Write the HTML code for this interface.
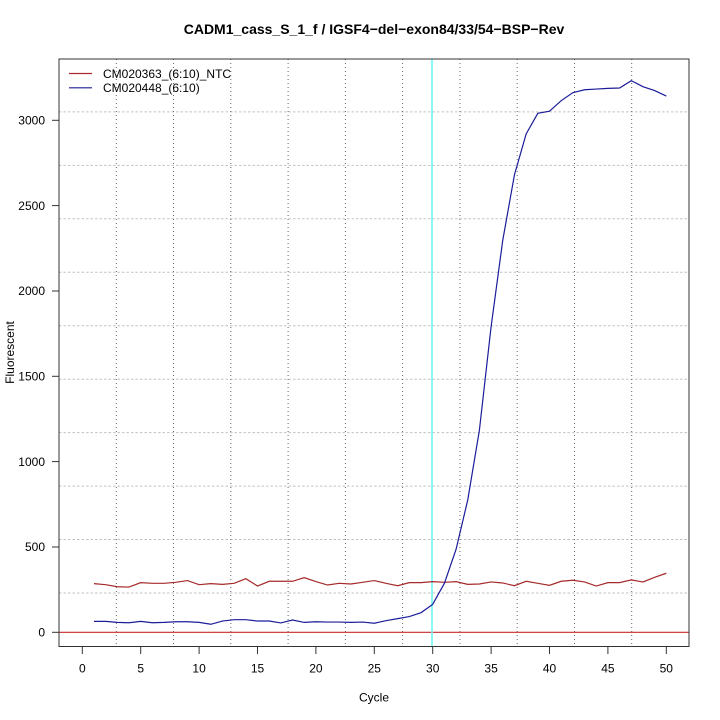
<!DOCTYPE html>
<html><head><meta charset="utf-8"><style>
html,body{margin:0;padding:0;background:#fff;}
svg{display:block;}
text{font-family:"Liberation Sans",Arial,sans-serif;fill:#000;}
</style></head><body>
<svg width="720" height="720" viewBox="0 0 720 720" xmlns="http://www.w3.org/2000/svg">
<rect x="0" y="0" width="720" height="720" fill="#fff"/>
<!-- title -->
<text x="374" y="34" font-size="14" font-weight="bold" text-anchor="middle">CADM1_cass_S_1_f / IGSF4−del−exon84/33/54−BSP−Rev</text>
<!-- horizontal grid -->
<g stroke="#c2c2c2" stroke-width="1" stroke-dasharray="2.5,2">
<line x1="59" x2="689" y1="111.9" y2="111.9"/>
<line x1="59" x2="689" y1="165.4" y2="165.4"/>
<line x1="59" x2="689" y1="218.8" y2="218.8"/>
<line x1="59" x2="689" y1="272.3" y2="272.3"/>
<line x1="59" x2="689" y1="325.7" y2="325.7"/>
<line x1="59" x2="689" y1="379.2" y2="379.2"/>
<line x1="59" x2="689" y1="432.6" y2="432.6"/>
<line x1="59" x2="689" y1="486.1" y2="486.1"/>
<line x1="59" x2="689" y1="539.5" y2="539.5"/>
<line x1="59" x2="689" y1="593.0" y2="593.0"/>
</g>
<!-- vertical grid -->
<g stroke="#666" stroke-width="1" stroke-dasharray="1,3">
<line y1="59" y2="646.5" x1="116.3" x2="116.3"/>
<line y1="59" y2="646.5" x1="173.5" x2="173.5"/>
<line y1="59" y2="646.5" x1="230.8" x2="230.8"/>
<line y1="59" y2="646.5" x1="288.1" x2="288.1"/>
<line y1="59" y2="646.5" x1="345.4" x2="345.4"/>
<line y1="59" y2="646.5" x1="402.6" x2="402.6"/>
<line y1="59" y2="646.5" x1="459.9" x2="459.9"/>
<line y1="59" y2="646.5" x1="517.2" x2="517.2"/>
<line y1="59" y2="646.5" x1="574.5" x2="574.5"/>
<line y1="59" y2="646.5" x1="631.7" x2="631.7"/>
</g>
<!-- zero line -->
<line x1="59" x2="689" y1="632.3" y2="632.3" stroke="#cc2a2a" stroke-width="1.2"/>
<!-- threshold cycle line -->
<line x1="432" x2="432" y1="59" y2="646.5" stroke="#6ff5f5" stroke-width="1.6"/>
<!-- series -->
<g transform="translate(82.3,632.3) scale(11.68,-0.17067)" fill="none">
<polyline vector-effect="non-scaling-stroke" stroke="#a52a2a" stroke-width="1.2" points="1,285 2,279 3,267 4,265 5,291 6,287 7,287 8,293 9,303 10,279 11,285 12,281 13,287 14,314 15,271 16,299 17,299 18,299 19,320 20,297 21,277 22,287 23,283 24,293 25,303 26,287 27,273 28,291 29,291 30,297 31,293 32,297 33,281 34,283 35,295 36,289 37,273 38,299 39,287 40,275 41,299 42,305 43,295 44,271 45,291 46,291 47,307 48,295 49,322 50,346"/>
<polyline vector-effect="non-scaling-stroke" stroke="#1c1c9a" stroke-width="1.2" points="1,64 2,64 3,58 4,56 5,64 6,56 7,58 8,62 9,62 10,58 11,47 12,66 13,74 14,74 15,66 16,66 17,55 18,72 19,58 20,62 21,60 22,60 23,58 24,60 25,53 26,68 27,80 28,92 29,115 30,164 31,287 32,486 33,775 34,1185 35,1791 36,2298 37,2681 38,2920 39,3041 40,3053 41,3115 42,3162 43,3179 44,3183 45,3187 46,3189 47,3232 48,3197 49,3174 50,3142"/>
</g>
<!-- box -->
<rect x="59" y="59" width="630" height="587.5" fill="none" stroke="#333" stroke-width="1"/>
<!-- y ticks -->
<g stroke="#333" stroke-width="1">
<line x1="52" x2="59" y1="632.3" y2="632.3"/>
<line x1="52" x2="59" y1="547.0" y2="547.0"/>
<line x1="52" x2="59" y1="461.6" y2="461.6"/>
<line x1="52" x2="59" y1="376.3" y2="376.3"/>
<line x1="52" x2="59" y1="291.0" y2="291.0"/>
<line x1="52" x2="59" y1="205.6" y2="205.6"/>
<line x1="52" x2="59" y1="120.3" y2="120.3"/>
</g>
<g font-size="12" text-anchor="end">
<text x="45" y="636.5">0</text>
<text x="45" y="551.2">500</text>
<text x="45" y="465.8">1000</text>
<text x="45" y="380.5">1500</text>
<text x="45" y="295.2">2000</text>
<text x="45" y="209.8">2500</text>
<text x="45" y="124.5">3000</text>
</g>
<!-- x ticks -->
<g stroke="#333" stroke-width="1">
<line y1="646.5" y2="654" x1="82.3" x2="82.3"/>
<line y1="646.5" y2="654" x1="140.7" x2="140.7"/>
<line y1="646.5" y2="654" x1="199.1" x2="199.1"/>
<line y1="646.5" y2="654" x1="257.5" x2="257.5"/>
<line y1="646.5" y2="654" x1="315.9" x2="315.9"/>
<line y1="646.5" y2="654" x1="374.3" x2="374.3"/>
<line y1="646.5" y2="654" x1="432.7" x2="432.7"/>
<line y1="646.5" y2="654" x1="491.1" x2="491.1"/>
<line y1="646.5" y2="654" x1="549.5" x2="549.5"/>
<line y1="646.5" y2="654" x1="607.9" x2="607.9"/>
<line y1="646.5" y2="654" x1="666.3" x2="666.3"/>
</g>
<g font-size="12" text-anchor="middle">
<text x="82.3" y="672.5">0</text>
<text x="140.7" y="672.5">5</text>
<text x="199.1" y="672.5">10</text>
<text x="257.5" y="672.5">15</text>
<text x="315.9" y="672.5">20</text>
<text x="374.3" y="672.5">25</text>
<text x="432.7" y="672.5">30</text>
<text x="491.1" y="672.5">35</text>
<text x="549.5" y="672.5">40</text>
<text x="607.9" y="672.5">45</text>
<text x="666.3" y="672.5">50</text>
</g>
<!-- axis labels -->
<text x="374" y="701.5" font-size="12" text-anchor="middle">Cycle</text>
<text x="0" y="0" font-size="12" text-anchor="middle" transform="translate(14,352.5) rotate(-90)">Fluorescent</text>
<!-- legend -->
<line x1="69" x2="92" y1="73.5" y2="73.5" stroke="#a52a2a" stroke-width="1.2"/>
<line x1="69" x2="92" y1="87.8" y2="87.8" stroke="#1c1c9a" stroke-width="1.2"/>
<text x="103" y="77.8" font-size="12">CM020363_(6:10)_NTC</text>
<text x="103" y="92.1" font-size="12">CM020448_(6:10)</text>
</svg>
</body></html>
